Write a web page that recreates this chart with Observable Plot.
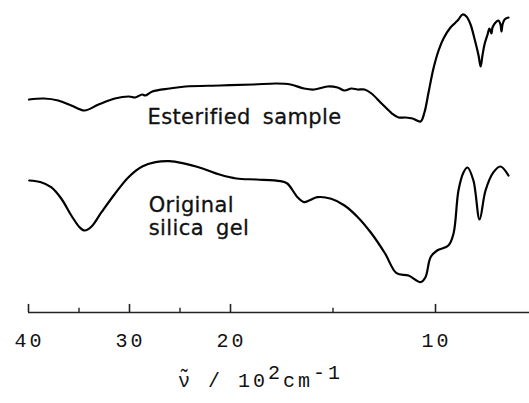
<!DOCTYPE html>
<html>
<head>
<meta charset="utf-8">
<script src="https://cdn.jsdelivr.net/npm/d3@7"></script>
<script src="https://cdn.jsdelivr.net/npm/@observablehq/plot@0.6"></script>
<style>
  body { margin: 0; background: #fff; }
  #chart { width: 529px; height: 403px; overflow: hidden; position: relative; background: #fff; }
  #xtitle { position: absolute; left: 178px; top: 372px; font-family: "Liberation Mono", monospace; font-size: 20px; line-height: 1; letter-spacing: 3px; color: #111; white-space: nowrap; }
  #xtitle .sup { position: relative; top: -8px; font-size: 20px; }
</style>
</head>
<body>
<div id="chart"></div>
<script>
// Wavenumber (x 10^2 cm^-1) and relative transmittance readings (arbitrary units)
const esterW = [39.95, 38.47, 37.06, 35.76, 34.46, 33.07, 31.45, 30.05, 29.45, 28.74, 28.45, 27.74, 26.04, 24.46, 21.03, 18.88, 17.76, 17.07, 16.41, 15.92, 15.27, 14.78, 14.44, 14.10, 13.80, 13.46, 13.12, 12.63, 12.12, 11.80, 11.46, 11.12, 10.73, 10.54, 10.34, 10.10, 9.85, 9.61, 9.27, 9.02, 8.88, 8.68, 8.49, 8.29, 8.10, 7.90, 7.80, 7.71, 7.61, 7.46, 7.37, 7.27, 7.22, 7.07, 6.93, 6.83, 6.78, 6.73, 6.63, 6.44];
const esterT = [71.0, 71.33, 70.67, 69.0, 67.33, 69.33, 71.33, 72.0, 71.67, 72.67, 72.33, 73.67, 74.67, 75.33, 75.67, 76.0, 76.33, 76.0, 74.67, 74.33, 75.33, 75.0, 74.0, 74.67, 74.33, 74.33, 73.0, 69.67, 66.33, 65.0, 65.0, 64.67, 63.67, 66.67, 73.33, 81.33, 87.33, 91.33, 95.0, 96.67, 97.67, 99.33, 98.67, 96.0, 91.33, 85.67, 82.0, 85.67, 89.33, 92.67, 94.67, 93.0, 95.0, 96.67, 97.33, 96.0, 93.67, 96.0, 97.67, 98.33];

const origW = [39.93, 38.76, 37.76, 36.76, 35.76, 34.92, 34.43, 33.76, 32.77, 31.42, 30.10, 28.74, 27.43, 26.07, 24.75, 22.77, 21.09, 19.71, 18.73, 17.56, 17.23, 16.73, 16.41, 16.16, 15.76, 15.09, 14.44, 13.79, 13.12, 12.46, 11.90, 11.32, 10.73, 10.49, 10.24, 9.92, 9.37, 9.12, 8.88, 8.63, 8.44, 8.15, 7.85, 7.56, 7.17, 6.83, 6.44];
const origT = [44.0, 43.43, 41.77, 38.0, 32.33, 28.33, 27.33, 28.67, 33.43, 39.67, 45.1, 48.67, 50.1, 50.43, 49.77, 48.0, 46.0, 44.67, 44.33, 43.77, 43.0, 38.43, 36.77, 37.33, 38.43, 37.9, 35.67, 31.77, 26.33, 19.67, 13.1, 12.33, 10.1, 11.77, 18.43, 20.67, 22.33, 26.33, 40.67, 46.77, 48.33, 44.0, 31.0, 40.67, 46.77, 48.67, 45.67];

const majorTicks = [40, 30, 20, 10];
const minorTicks = [35, 25, 15];
const tickLabels = ["40", "30", "20", "10"];
const curveLabels = ["Esterified sample", "Original\nsilica gel"];

const ester = esterW.map((w, i) => ({w, t: esterT[i]}));
const orig = origW.map((w, i) => ({w, t: origT[i]}));

const plot = Plot.plot({
  width: 529,
  height: 362,
  marginTop: 12,
  marginBottom: 50,
  marginLeft: 0,
  marginRight: 0,
  style: {background: "#fff", color: "#111", overflow: "hidden"},
  x: {type: "linear", domain: [40, 20, 5], range: [28, 230, 537.5], axis: null},
  y: {domain: [0, 100], axis: null},
  marks: [
    Plot.ruleY([0], {x1: 40, x2: 5, stroke: "#222", strokeWidth: 1.6}),
    Plot.ruleX(majorTicks, {x: d => d, y1: 0, y2: 2.7, stroke: "#222", strokeWidth: 1.6}),
    Plot.ruleX(minorTicks, {x: d => d, y1: 0, y2: 1.4, stroke: "#222", strokeWidth: 1.4}),
    Plot.text(majorTicks, {x: d => d, y: -9.3, text: (d, i) => tickLabels[i], fontFamily: "Liberation Mono", fontSize: 20, dx: 1, fill: "#111"}),
    Plot.line(ester, {x: "w", y: "t", curve: "catmull-rom", stroke: "#000", strokeWidth: 2.2}),
    Plot.line(orig, {x: "w", y: "t", curve: "catmull-rom", stroke: "#000", strokeWidth: 2.2}),
    Plot.text([curveLabels[0]], {x: 28.22, y: 65.0, text: d => d, textAnchor: "start", fontFamily: "DejaVu Sans", fontSize: 21, fill: "#111", stroke: "#111", strokeWidth: 0.3}),
    Plot.text([curveLabels[1]], {x: 28.1, y: 32.0, text: d => d, textAnchor: "start", lineHeight: 1.08, fontFamily: "DejaVu Sans", fontSize: 21, fill: "#111", stroke: "#111", strokeWidth: 0.3})
  ]
});

// typographic spacing to mimic the typewriter/lettering of the original
d3.select(plot).selectAll("text").each(function () {
  const t = this.textContent;
  if (tickLabels.includes(t)) {
    this.style.letterSpacing = "3px";
  } else if (t.includes("Esterified") || t.includes("Original")) {
    this.style.letterSpacing = "0.4px";
    this.style.wordSpacing = "5px";
  }
});

const chart = document.getElementById("chart");
chart.appendChild(plot);
const title = document.createElement("div");
title.id = "xtitle";
title.innerHTML = "\u03BD\u0303 / 10<span class=\"sup\">2</span>cm<span class=\"sup\">-1</span>";
chart.appendChild(title);
</script>
</body>
</html>
